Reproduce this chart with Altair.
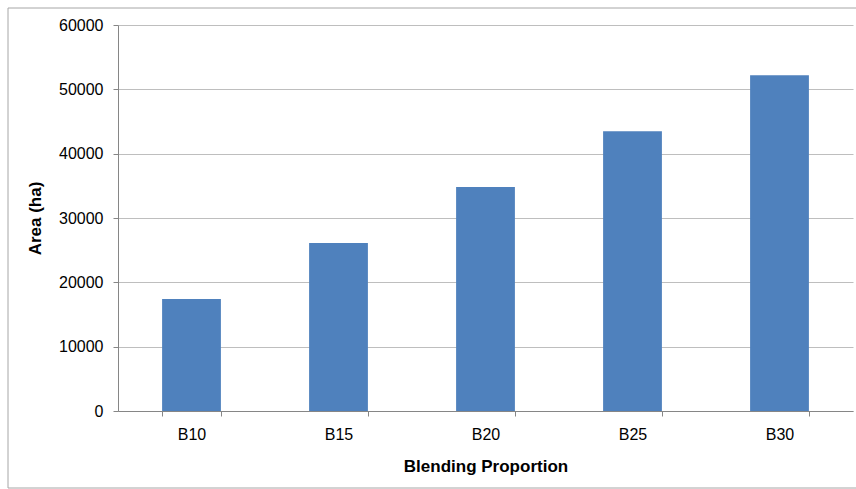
import altair as alt
import pandas as pd

# Land area needed for each biodiesel blending proportion
blends = ["B10", "B15", "B20", "B25", "B30"]
area_ha = [17400, 26100, 34800, 43500, 52200]
y_ticks = [0, 10000, 20000, 30000, 40000, 50000, 60000]

df = pd.DataFrame({"blend": blends, "area": area_ha})

W, H = 735, 386
FONT = "Liberation Sans"

bars = alt.Chart(df).mark_bar(color="#4F81BD", clip=False).encode(
    x=alt.X(
        "blend:N",
        sort=blends,
        scale=alt.Scale(paddingInner=0.6, paddingOuter=0.3),
        axis=alt.Axis(
            title="Blending Proportion",
            labelAngle=0,
            labelFontSize=16,
            labelFont=FONT,
            labelColor="#000000",
            labelPadding=10,
            tickBand="extent",
            tickSize=5,
            tickColor="#868686",
            domainColor="#868686",
            grid=False,
            titleFont=FONT,
            titleFontSize=17,
            titleFontWeight="bold",
            titleColor="#000000",
            titleY=55,
            titleBaseline="middle",
        ),
    ),
    y=alt.Y(
        "area:Q",
        scale=alt.Scale(domain=[0, 60000], nice=False),
        axis=alt.Axis(
            title="Area (ha)",
            values=y_ticks,
            format="d",
            labelFontSize=16,
            labelFont=FONT,
            labelColor="#000000",
            labelPadding=10,
            tickSize=5,
            tickColor="#868686",
            domainColor="#868686",
            gridColor="#BEBEBE",
            gridWidth=1,
            titleFont=FONT,
            titleFontSize=17,
            titleFontWeight="bold",
            titleColor="#000000",
            titleAngle=270,
            titleX=-83,
            titleY=H / 2,
            titleAlign="center",
            titleBaseline="middle",
        ),
    ),
)

# Outer chart-area frame (its right edge runs past the page)
frame = alt.Chart(pd.DataFrame({"k": [0]})).mark_rect(
    fill=None, stroke="#A6A6A6", strokeWidth=1, clip=False
).encode(
    x=alt.value(-110),
    x2=alt.value(760),
    y=alt.value(-17),
    y2=alt.value(463),
)

chart = (
    alt.layer(frame, bars)
    .properties(
        width=W,
        height=H,
        autosize=alt.AutoSizeParams(type="none"),
        padding={"left": 118, "top": 25, "right": 3, "bottom": 78},
        background="white",
    )
    .configure_view(stroke=None)
)

chart.save("out.html", embed_options={"renderer": "svg", "actions": False})
